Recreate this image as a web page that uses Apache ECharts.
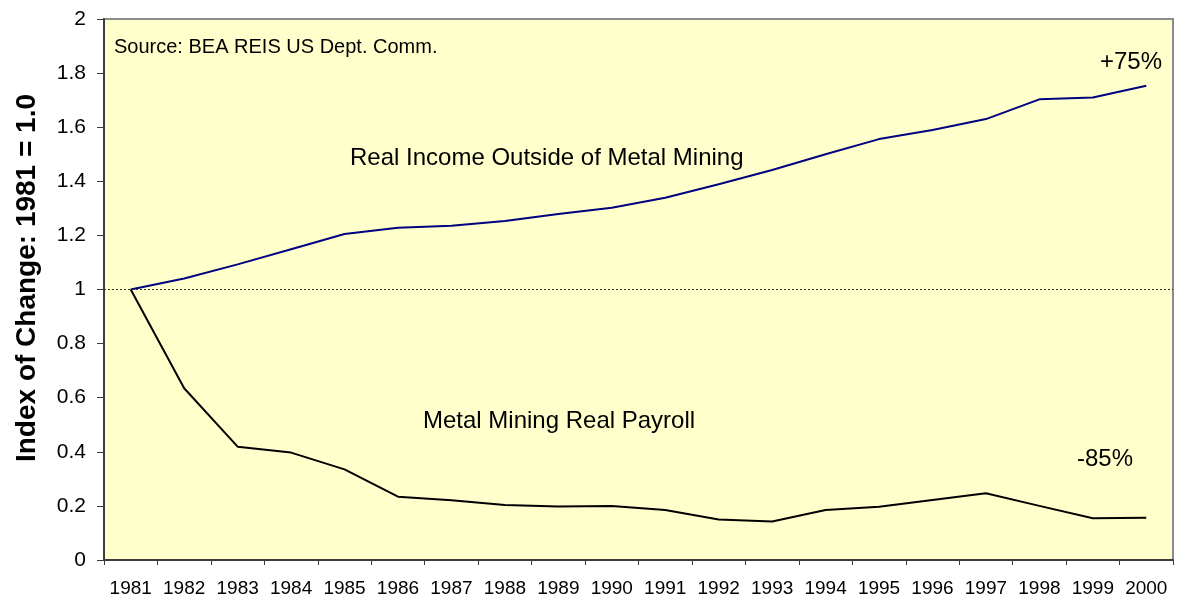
<!DOCTYPE html>
<html>
<head>
<meta charset="utf-8">
<script src="https://cdn.jsdelivr.net/npm/echarts@6/dist/echarts.min.js"></script>
<style>
  html, body { margin: 0; padding: 0; background: #fff; }
  #chart { width: 1179px; height: 598px; }
</style>
</head>
<body>
<div id="chart"></div>
<script>
// 年份 / 两条指数线
var years = ['1981', '1982', '1983', '1984', '1985', '1986', '1987', '1988', '1989', '1990',
  '1991', '1992', '1993', '1994', '1995', '1996', '1997', '1998', '1999', '2000'];
var realIncome = [1.0, 1.041, 1.093, 1.149, 1.205, 1.228, 1.236, 1.253, 1.279, 1.302,
  1.339, 1.389, 1.442, 1.5, 1.556, 1.59, 1.63, 1.703, 1.71, 1.753];
var miningPayroll = [1.0, 0.635, 0.419, 0.397, 0.335, 0.234, 0.221, 0.203, 0.198, 0.2,
  0.185, 0.15, 0.142, 0.185, 0.197, 0.222, 0.247, 0.2, 0.154, 0.156];
var baseLine = 1;

var font = 'Liberation Sans, Arial, sans-serif';
var myChart = echarts.init(document.getElementById('chart'));

myChart.setOption({
  animation: false,
  grid: {
    left: 104,
    right: 6,
    top: 19,
    bottom: 38,
    show: true,
    backgroundColor: '#FFFFCC',
    borderColor: '#8c8c8c',
    borderWidth: 2
  },
  xAxis: {
    type: 'category',
    data: years,
    boundaryGap: true,
    axisLine: { show: true, lineStyle: { color: '#3c3c3c', width: 2 } },
    axisTick: { show: true, length: 5, interval: 0, lineStyle: { color: '#3c3c3c', width: 1 } },
    axisLabel: { color: '#000', fontFamily: font, fontSize: 19, margin: 19, interval: 0 },
    splitLine: { show: false }
  },
  yAxis: {
    type: 'value',
    min: 0,
    max: 2,
    interval: 0.2,
    axisLine: { show: true, lineStyle: { color: '#3c3c3c', width: 2 } },
    axisTick: { show: true, length: 7, lineStyle: { color: '#3c3c3c', width: 1 } },
    axisLabel: { color: '#000', fontFamily: font, fontSize: 21, margin: 18 },
    splitLine: { show: false }
  },
  series: [
    {
      name: 'Real Income Outside of Metal Mining',
      type: 'line',
      data: realIncome,
      symbol: 'none',
      lineStyle: { color: '#000080', width: 2 },
      markLine: {
        silent: true,
        symbol: 'none',
        label: { show: false },
        lineStyle: { color: '#333', width: 1, type: [2, 2] },
        data: [{ yAxis: baseLine }]
      },
      z: 3
    },
    {
      name: 'Metal Mining Real Payroll',
      type: 'line',
      data: miningPayroll,
      symbol: 'none',
      lineStyle: { color: '#000', width: 2 },
      z: 3
    }
  ],
  graphic: [
    {
      type: 'text', left: 114, top: 37,
      style: { text: 'Source: BEA REIS US Dept. Comm.', fill: '#000', font: '20px ' + font }
    },
    {
      type: 'text', left: 350, top: 146,
      style: { text: 'Real Income Outside of Metal Mining', fill: '#000', font: '24px ' + font }
    },
    {
      type: 'text', left: 423, top: 409,
      style: { text: 'Metal Mining Real Payroll', fill: '#000', font: '24px ' + font }
    },
    {
      type: 'text', left: 1100, top: 50,
      style: { text: '+75%', fill: '#000', font: '24px ' + font }
    },
    {
      type: 'text', left: 1077, top: 447,
      style: { text: '-85%', fill: '#000', font: '24px ' + font }
    },
    {
      type: 'text', x: 27, y: 278, rotation: Math.PI / 2,
      style: {
        text: 'Index of Change: 1981 = 1.0', fill: '#000',
        font: 'bold 28px ' + font, align: 'center', verticalAlign: 'middle'
      }
    }
  ]
});
</script>
</body>
</html>
